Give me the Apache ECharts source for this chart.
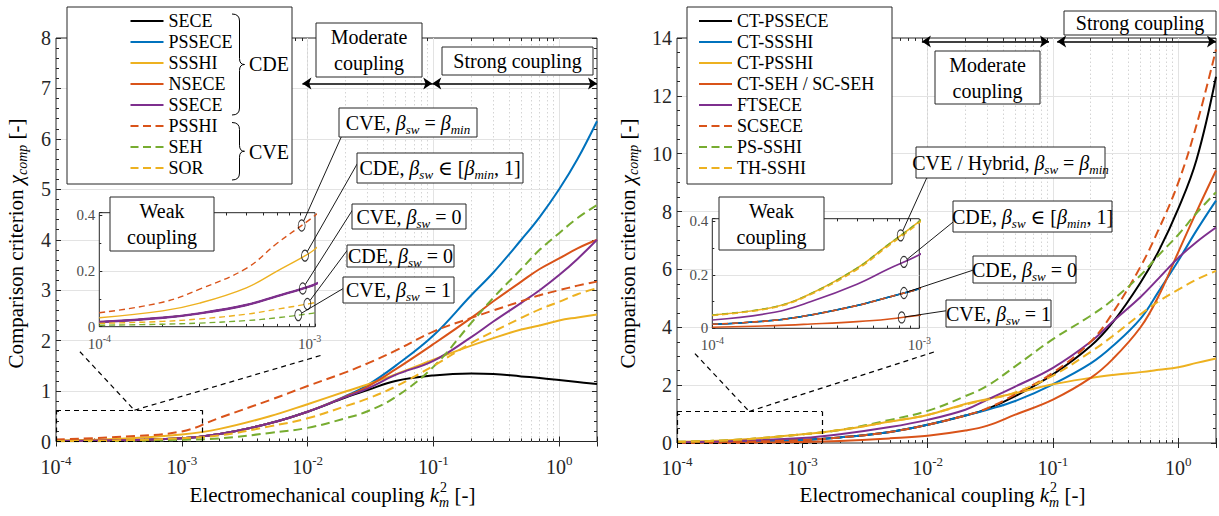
<!DOCTYPE html>
<html><head><meta charset="utf-8">
<script src="https://cdn.jsdelivr.net/npm/echarts@6.0.0/dist/echarts.min.js"></script>
<style>html,body{margin:0;padding:0;background:#fff}#c{width:1219px;height:516px}</style>
</head><body><div id="c"></div>
<script>
// ---------------- DATA ----------------
// main plots: electromechanical coupling k_m^2
const kMain = [1e-4,3e-4,1e-3,2e-3,5e-3,1e-2,2e-2,3e-2,5e-2,0.1,0.2,0.3,0.5,0.7,1,1.4,2];
// left main panel
const SECE   = [0.01,0.025,0.065,0.15,0.36,0.59,0.87,1.02,1.2,1.31,1.35,1.34,1.29,1.26,1.22,1.18,1.14];
const PSSECE = [0.01,0.025,0.065,0.15,0.36,0.59,0.9,1.12,1.5,2.1,2.9,3.35,4.0,4.45,5.0,5.6,6.35];
const SSSHI  = [0.02,0.05,0.14,0.25,0.5,0.74,0.99,1.13,1.33,1.62,1.9,2.05,2.22,2.3,2.4,2.46,2.52];
const NSECE  = [0.01,0.025,0.065,0.15,0.36,0.59,0.89,1.09,1.43,1.93,2.45,2.78,3.17,3.42,3.63,3.83,4.0];
const SSECE  = [0.01,0.025,0.065,0.15,0.36,0.59,0.88,1.05,1.32,1.6,2.07,2.38,2.75,3.0,3.3,3.62,4.0];
const PSSHI  = [0.04,0.09,0.2,0.47,0.82,1.1,1.37,1.55,1.8,2.18,2.45,2.6,2.78,2.9,3.0,3.09,3.17];
const SEH    = [0.003,0.01,0.035,0.06,0.17,0.27,0.46,0.6,0.88,1.48,2.35,2.85,3.42,3.8,4.13,4.43,4.69];
const SOR    = [0.007,0.02,0.065,0.12,0.3,0.46,0.7,0.85,1.09,1.5,1.95,2.18,2.45,2.62,2.77,2.92,3.04];
// right main panel
const CT_PSSECE = [0.01,0.04,0.1,0.19,0.38,0.63,0.95,1.18,1.62,2.37,3.35,4.17,5.55,6.65,8.1,9.8,12.66];
const CT_SSSHI  = [0.01,0.04,0.1,0.19,0.38,0.63,0.95,1.15,1.45,2.03,2.75,3.35,4.3,5.25,6.3,7.35,8.38];
const CT_PSSHI  = [0.04,0.11,0.3,0.45,0.74,0.97,1.35,1.52,1.72,2.03,2.25,2.35,2.45,2.53,2.62,2.77,2.92];
const CT_SEH    = [0.003,0.01,0.035,0.07,0.16,0.25,0.43,0.6,0.98,1.5,2.25,2.9,4.0,5.1,6.6,8.0,9.42];
const FTSECE    = [0.02,0.07,0.17,0.3,0.55,0.8,1.15,1.5,1.95,2.6,3.5,4.2,5.05,5.7,6.4,6.95,7.45];
const SCSECE    = [0.01,0.04,0.1,0.19,0.38,0.63,0.95,1.2,1.68,2.43,3.5,4.5,6.1,7.4,9.0,11.0,13.6];
const PS_SSHI   = [0.04,0.11,0.3,0.45,0.8,1.11,1.62,1.98,2.65,3.59,4.4,4.95,5.8,6.5,7.2,7.95,8.67];
const TH_SSHI   = [0.04,0.11,0.3,0.45,0.74,0.97,1.33,1.5,1.75,2.33,3.15,3.7,4.45,4.9,5.3,5.65,5.95];
// insets ("Weak coupling")
const kInset = [1e-4,2e-4,3e-4,5e-4,7e-4,1e-3,1.1e-3];
const L_CDE0_in  = [0.017,0.032,0.048,0.078,0.11,0.145,0.158];
const L_SSSHI_in = [0.032,0.057,0.085,0.14,0.2,0.265,0.29];
const L_PSSHI_in = [0.05,0.088,0.135,0.21,0.3,0.385,0.41];
const L_SEH_in   = [0.005,0.009,0.013,0.022,0.032,0.047,0.052];
const L_SOR_in   = [0.012,0.019,0.028,0.045,0.063,0.083,0.09];
const R_CDE0_in  = [0.015,0.03,0.05,0.085,0.115,0.148,0.16];
const R_CVE_in   = [0.05,0.08,0.13,0.225,0.31,0.4,0.43];
const R_TH_in    = [0.048,0.078,0.127,0.22,0.305,0.395,0.425];
const R_SEH_in   = [0.004,0.01,0.016,0.025,0.034,0.049,0.053];
const R_FT_in    = [0.031,0.06,0.1,0.165,0.22,0.275,0.3];
// axis ranges / ticks
const xRange = [1e-4, 2];
const leftY = {min:0, max:8, interval:1};
const rightY = {min:0, max:14, interval:2};
const insetLeftX = [1e-4, 1.06e-3];
const insetRightX = [1e-4, 1e-3];
const insetY = {min:0, max:0.41, interval:0.2};

// ---------------- STYLE ----------------
const FONT = "'Liberation Serif','Times New Roman','DejaVu Serif',serif";
const TICK = '#262626';
const GRID_C = '#e3e3e3';
const MINOR_C = '#d4d4d4';
const C = {blue:'#0072BD', orange:'#D95319', yellow:'#EDB120', purple:'#7E2F8E', green:'#77AC30', black:'#000000'};
const SOLID_ICON = 'path://M0,0H33V2.2H0Z';
const DASH_ICON = 'path://M0,0H8V2.2H0ZM12.5,0H20.5V2.2H12.5ZM25,0H33V2.2H25Z';

const leftDefs = [
  {name:'SECE', data:SECE, inset:L_CDE0_in, color:C.black},
  {name:'PSSECE', data:PSSECE, inset:L_CDE0_in, color:C.blue},
  {name:'SSSHI', data:SSSHI, inset:L_SSSHI_in, color:C.yellow},
  {name:'NSECE', data:NSECE, inset:L_CDE0_in, color:C.orange},
  {name:'SSECE', data:SSECE, inset:L_CDE0_in, color:C.purple},
  {name:'PSSHI', data:PSSHI, inset:L_PSSHI_in, color:C.orange, dash:true},
  {name:'SEH', data:SEH, inset:L_SEH_in, color:C.green, dash:true},
  {name:'SOR', data:SOR, inset:L_SOR_in, color:C.yellow, dash:true}
];
const rightDefs = [
  {name:'CT-PSSECE', data:CT_PSSECE, inset:R_CDE0_in, color:C.black},
  {name:'CT-SSSHI', data:CT_SSSHI, inset:R_CDE0_in, color:C.blue},
  {name:'CT-PSSHI', data:CT_PSSHI, inset:R_CVE_in, color:C.yellow},
  {name:'CT-SEH / SC-SEH', data:CT_SEH, inset:R_SEH_in, color:C.orange},
  {name:'FTSECE', data:FTSECE, inset:R_FT_in, color:C.purple},
  {name:'SCSECE', data:SCSECE, inset:R_CDE0_in, color:C.orange, dash:true},
  {name:'PS-SSHI', data:PS_SSHI, inset:R_CVE_in, color:C.green, dash:true},
  {name:'TH-SSHI', data:TH_SSHI, inset:R_TH_in, color:C.yellow, dash:true}
];

function pairs(xs, ys){ return xs.map((x,i)=>[x, ys[i]]); }
function lineSeries(def, xs, ys, xi, yi, width, dash, z, suffix){
  return {type:'line', name: def.name + (suffix||''), xAxisIndex:xi, yAxisIndex:yi, data: pairs(xs, ys),
    symbol:'none', showSymbol:false, smooth:0.4, silent:true, z:z,
    lineStyle:{color:def.color, width:width, type: def.dash ? dash : 'solid', cap:'butt', join:'round'},
    itemStyle:{color:def.color}, emphasis:{disabled:true}};
}
function interp(xs, ys, x){
  const lx = Math.log10(x);
  for (let i=0;i<xs.length-1;i++){
    const a = Math.log10(xs[i]), b = Math.log10(xs[i+1]);
    if (lx>=a && lx<=b) return ys[i] + (ys[i+1]-ys[i])*(lx-a)/(b-a);
  }
  return ys[ys.length-1];
}
function decadeLabel(size, ssize, lh, col){
  return {fontFamily:FONT, color:col,
    formatter: v => { const l = Math.log10(v), e = Math.round(l); if (Math.abs(l-e)>1e-6) return ''; return '{b|10}{s|' + (e<0 ? '-' + Math.abs(e) : e) + '}'; },
    rich:{ b:{fontFamily:FONT, fontSize:size, lineHeight:lh, color:col, verticalAlign:'middle'},
           s:{fontFamily:FONT, fontSize:ssize, lineHeight:Math.round(lh/2), color:col, verticalAlign:'top'} } };
}
function logAxis(grid, range, pos, labels){
  const ax = {type:'log', logBase:10, gridIndex:grid, min:range[0], max:range[1], position:pos, z:1,
    axisLine:{show:false}, axisTick:{show:true, inside:true, length:5, lineStyle:{color:TICK, width:1}},
    splitLine:{show:false}, minorTick:{show:false}};
  ax.axisLabel = labels ? Object.assign({show:true, margin:12, showMinLabel:true, showMaxLabel:true}, decadeLabel(20,13,26,TICK)) : {show:false};
  return ax;
}
function valAxis(grid, r, minorSplit, pos, labels){
  return {type:'value', gridIndex:grid, min:r.min, max:r.max, interval:r.interval, position:pos, z:1,
    axisLine:{show:false}, axisTick:{show:true, inside:true, length:5, lineStyle:{color:TICK}},
    minorTick:{show:true, splitNumber:minorSplit, length:3, lineStyle:{color:TICK}},
    splitLine:{show:false},
    axisLabel: labels ? {show:true, fontFamily:FONT, fontSize:20, color:TICK, margin:5} : {show:false}};
}
function insetXAxis(grid, range){
  const ax = {type:'log', logBase:10, gridIndex:grid, min:range[0], max:range[1], position:'bottom', z:4,
    axisLine:{show:false}, axisTick:{show:true, inside:true, length:3, lineStyle:{color:TICK}},
    splitLine:{show:false}, minorTick:{show:false}};
  ax.axisLabel = Object.assign({show:true, margin:7, showMinLabel:true, showMaxLabel:true}, decadeLabel(15,10,20,'#4d4d4d'));
  return ax;
}
function insetYAxis(grid){
  return {type:'value', gridIndex:grid, min:insetY.min, max:insetY.max, interval:insetY.interval, z:4,
    axisLine:{show:false}, axisTick:{show:true, inside:true, length:3, lineStyle:{color:TICK}},
    minorTick:{show:true, splitNumber:2, length:2, lineStyle:{color:TICK}},
    splitLine:{show:false},
    axisLabel:{show:true, fontFamily:FONT, fontSize:15, color:'#4d4d4d', margin:4,
      formatter: v => { if (Math.abs(v*5-Math.round(v*5))>1e-6) return ''; return v===0 ? '0' : v.toFixed(1); }}};
}
function minorVals(lo, hi){ const out=[]; for (let e=-5;e<=1;e++) for (let m=2;m<=9;m++){ const v=m*Math.pow(10,e); if (v>lo*1.0001 && v<hi*0.9999) out.push(+v.toPrecision(3)); } return out; }
function majorVals(lo, hi){ const out=[]; for (let e=-5;e<=1;e++){ const v=Math.pow(10,e); if (v>lo*1.0001 && v<hi*0.9999) out.push(v);} return out; }
function gridHelper(xi, yi, xr, yr, ygrid, dy, z){
  const TS = {color:TICK, type:'solid', width:1};
  const data = [];
  majorVals(xr[0], xr[1]).forEach(v => data.push({xAxis:v, lineStyle:{color:GRID_C, type:'solid', width:1}}));
  minorVals(xr[0], xr[1]).forEach(v => data.push({xAxis:v, lineStyle:{color:MINOR_C, type:[1.5,2.5], width:1}}));
  ygrid.forEach(v => data.push({yAxis:v, lineStyle:{color:GRID_C, type:'solid', width:1}}));
  minorVals(xr[0], xr[1]).forEach(v => {
    data.push([{coord:[v, yr[0]], lineStyle:TS},{coord:[v, yr[0]+dy], lineStyle:TS}]);
    data.push([{coord:[v, yr[1]-dy], lineStyle:TS},{coord:[v, yr[1]], lineStyle:TS}]);
  });
  return {type:'line', xAxisIndex:xi, yAxisIndex:yi, data:[], silent:true, z:z,
    markLine:{silent:true, symbol:'none', z:z, animation:false, label:{show:false}, emphasis:{disabled:true}, data:data}};
}
function seg(a, b, style, sym){
  const s0 = {coord:a, lineStyle:style}, s1 = {coord:b, lineStyle:style};
  if (sym){ s0.symbol='arrow'; s1.symbol='arrow'; s0.symbolSize=9; s1.symbolSize=9; }
  return [s0, s1];
}
function annoHelper(xi, yi, box, links, arrows){
  const D = {color:'#000', type:[5,4], width:1.2};
  const A = {color:'#000', type:'solid', width:1.5};
  const x0=box[0], x1=box[1], y0=box[2], y1=box[3];
  const data = [
    seg([x0,y1],[x1,y1],D), seg([x1,y0],[x1,y1],D), seg([x0,y0],[x1,y0],D), seg([x0,y0],[x0,y1],D),
    seg(links[0],links[1],D), seg(links[1],links[2],D)
  ];
  arrows.forEach(a => data.push(seg(a[0], a[1], A, true)));
  return {type:'line', xAxisIndex:xi, yAxisIndex:yi, data:[], silent:true, z:6,
    markLine:{silent:true, symbol:'none', z:6, animation:false, label:{show:false}, emphasis:{disabled:true}, data:data}};
}

// annotation ellipses in the insets (placed on the inset curves)
const leftEll = [
  {x:9.16e-4, s:L_PSSHI_in, to:[341.7,136]},
  {x:9.5e-4,  s:L_SSSHI_in, to:[357.5,163.3]},
  {x:9.27e-4, s:L_CDE0_in,  to:[352.5,210]},
  {x:9.75e-4, s:L_SOR_in,   to:[347.5,250]},
  {x:8.83e-4, s:L_SEH_in,   to:[343.5,288.3]}
];
const rightEll = [
  {x:8.13e-4, s:R_CVE_in,  to:[926.7,178]},
  {x:8.43e-4, s:R_FT_in,   to:[953.5,221.7]},
  {x:8.43e-4, s:R_CDE0_in, to:[973.5,270]},
  {x:8.22e-4, s:R_SEH_in,  to:[946.5,310.7]}
];
function ellSeries(xi, yi, ells){
  return {type:'scatter', xAxisIndex:xi, yAxisIndex:yi, silent:true, z:7,
    data: ells.map(e => [e.x, interp(kInset, e.s, e.x)]), symbol:'circle', symbolSize:[7,11],
    itemStyle:{color:'rgba(255,255,255,0)', borderColor:'#000', borderWidth:1}};
}

const series = [];
series.push(gridHelper(0,0,xRange,[0,8],[1,2,3,4,5,6,7],0.06,1));
series.push(gridHelper(2,2,xRange,[0,14],[2,4,6,8,10,12],0.1,1));
series.push(gridHelper(4,4,insetLeftX,[0,0.41],[0.2],0.01,3.5));
series.push(gridHelper(5,5,insetRightX,[0,0.41],[0.2],0.01,3.5));
leftDefs.forEach(d => series.push(lineSeries(d,kMain,d.data,0,0,2,[9,5],2)));
rightDefs.forEach(d => series.push(lineSeries(d,kMain,d.data,2,2,2,[9,5],2)));
leftDefs.forEach(d => series.push(lineSeries(d,kInset,d.inset,4,4,d.name==='SSECE'?2.4:1.4,[6,4],5,' (inset)')));
rightDefs.forEach(d => series.push(lineSeries(d,kInset,d.inset,5,5,1.6,[6,4],5,' (inset)')));
series.push(ellSeries(4,4,leftEll));
series.push(ellSeries(5,5,rightEll));
series.push(annoHelper(0,0,[1e-4,1.46e-3,0,0.62],[[1.55e-4,1.78],[4.2e-4,0.62],[0.0133,1.72]],
  [[[0.0091,7.1],[0.098,7.1]],[[0.098,7.1],[2,7.1]]]));
series.push(annoHelper(2,2,[1e-4,1.44e-3,0,1.09],[[1.39e-4,3.09],[3.77e-4,1.09],[0.0117,3.17]],
  [[[0.009,13.88],[0.093,13.88]],[[0.108,13.88],[2,13.88]]]));

const legendText = {fontFamily:FONT, fontSize:18, color:'#000', lineHeight:14};
const option = {
  animation:false,
  backgroundColor:'#fff',
  grid:[
    {left:56, top:38, width:541, height:403.5, show:true, borderColor:TICK, borderWidth:1, backgroundColor:'rgba(0,0,0,0)', z:1},
    {left:677, top:38, width:539, height:405, show:true, borderColor:TICK, borderWidth:1, backgroundColor:'rgba(0,0,0,0)', z:1},
    {left:99.3, top:212.7, width:215.7, height:114, show:true, borderColor:TICK, borderWidth:1, backgroundColor:'#fff', z:3},
    {left:712.3, top:218.7, width:207, height:109.6, show:true, borderColor:TICK, borderWidth:1, backgroundColor:'#fff', z:3}
  ],
  xAxis:[
    logAxis(0, xRange, 'bottom', true),
    logAxis(0, xRange, 'top', false),
    logAxis(1, xRange, 'bottom', true),
    logAxis(1, xRange, 'top', false),
    insetXAxis(2, insetLeftX),
    insetXAxis(3, insetRightX)
  ],
  yAxis:[
    valAxis(0, leftY, 5, 'left', true),
    valAxis(0, leftY, 5, 'right', false),
    valAxis(1, rightY, 4, 'left', true),
    valAxis(1, rightY, 4, 'right', false),
    insetYAxis(2),
    insetYAxis(3)
  ],
  legend:[
    {data:leftDefs.map(d=>({name:d.name, icon:d.dash?DASH_ICON:SOLID_ICON})), orient:'vertical', left:130.5, top:12,
      itemWidth:33, itemHeight:14, itemGap:3, padding:0, textStyle:legendText, selectedMode:false, z:15},
    {data:rightDefs.map(d=>({name:d.name, icon:d.dash?DASH_ICON:SOLID_ICON})), orient:'vertical', left:699, top:12,
      itemWidth:33, itemHeight:14, itemGap:3, padding:0, textStyle:legendText, selectedMode:false, z:15}
  ],
  series:series
};

const chart = echarts.init(document.getElementById('c'), null, {renderer:'svg', width:1219, height:516});
chart.setOption(option);

// ---------------- GRAPHIC ANNOTATIONS ----------------
const meas = document.createElement('canvas').getContext('2d');
function tw(t, size, it){ meas.font = (it?'italic ':'') + size + 'px ' + FONT; return meas.measureText(t).width; }
function rect(x,y,w,h,z){ return {type:'rect', silent:true, z:z||12, shape:{x:x,y:y,width:w,height:h}, style:{fill:'#fff', stroke:TICK, lineWidth:1}}; }
function text(t, x, y, size, opt){
  return {type:'text', silent:true, z:13, x:x, y:y,
    style:Object.assign({text:t, font:size+'px '+FONT, fill:'#000', align:'center', verticalAlign:'middle', textAlign:'center', textVerticalAlign:'middle'}, opt||{})};
}
const RICH = {
  n:{fontFamily:FONT, fontSize:20, lineHeight:26, color:'#000', verticalAlign:'middle'},
  i:{fontFamily:FONT, fontSize:20, fontStyle:'italic', lineHeight:26, color:'#000', verticalAlign:'middle'},
  s:{fontFamily:FONT, fontSize:13, fontStyle:'italic', lineHeight:10, color:'#000', verticalAlign:'bottom'}
};
function richText(t, x, y){
  return {type:'text', silent:true, z:13, x:x, y:y,
    style:{text:t, rich:RICH, font:'20px '+FONT, fill:'#000', align:'center', verticalAlign:'middle', textAlign:'center', textVerticalAlign:'middle'}};
}
const annBoxes = [
  {b:[339,108,138,29],  t:'{n|CVE, }{i|β}{s|sw}{n| = }{i|β}{s|min}'},
  {b:[357,153,166,30],  t:'{n|CDE, }{i|β}{s|sw}{n| ∈ [}{i|β}{s|min}{n|, 1]}'},
  {b:[352,204,114,25],  t:'{n|CVE, }{i|β}{s|sw}{n| = 0}'},
  {b:[347,245,107,22],  t:'{n|CDE, }{i|β}{s|sw}{n| = 0}'},
  {b:[343,277,111,26],  t:'{n|CVE, }{i|β}{s|sw}{n| = 1}'},
  {b:[916,147,189,31],  t:'{n|CVE / Hybrid, }{i|β}{s|sw}{n| = }{i|β}{s|min}'},
  {b:[953,201,159,31],  t:'{n|CDE, }{i|β}{s|sw}{n| ∈ [}{i|β}{s|min}{n|, 1]}'},
  {b:[973,256,103,27],  t:'{n|CDE, }{i|β}{s|sw}{n| = 0}'},
  {b:[946,300,105,27],  t:'{n|CVE, }{i|β}{s|sw}{n| = 1}'}
];
const regionBoxes = [
  {b:[316,23,106,54], t:'Moderate\ncoupling'},
  {b:[442,47,151,28], t:'Strong coupling'},
  {b:[935,51,105,53], t:'Moderate\ncoupling'},
  {b:[1064,11,152,24], t:'Strong coupling'},
  {b:[110,197,104,54], t:'Weak\ncoupling'},
  {b:[719,197,105,53], t:'Weak\ncoupling'}
];
function mathLine(parts, cx, cy, rotate){
  let x = 0; const placed = [];
  parts.forEach(p => { placed.push({p:p, x:x + (p.dx||0)}); if (!p.noAdv) x += tw(p.t, p.size, p.it); });
  const W = x;
  const kids = placed.map(o => ({type:'text', silent:true, z:13, x:-W/2 + o.x, y:(o.p.dy||0),
    style:{text:o.p.t, font:(o.p.it?'italic ':'') + o.p.size + 'px ' + FONT, fill:'#000', align:'left', verticalAlign:'middle', textAlign:'left', textVerticalAlign:'middle'}}));
  return {type:'group', x:cx, y:cy, rotation: rotate ? Math.PI/2 : 0, silent:true, children:kids};
}
const xTitleParts = [
  {t:'Electromechanical coupling ', size:21},
  {t:'k', size:21, it:true},
  {t:'2', size:14, dy:-8, dx:1, noAdv:true},
  {t:'m', size:14, it:true, dy:7},
  {t:' [-]', size:21}
];
const yTitleParts = [
  {t:'Comparison criterion ', size:21},
  {t:'χ', size:21, it:true},
  {t:'comp', size:14, it:true, dy:6},
  {t:' [-]', size:21}
];
function braceParts(x0, x1, y0, y1){
  const ym = (y0+y1)/2, S = {fill:'none', stroke:'#000', lineWidth:1};
  const mk = (type, shape) => ({type:type, silent:true, z:14, shape:shape, style:S});
  return [
    mk('bezierCurve', {x1:x0, y1:y0, x2:x1, y2:y0+7, cpx1:x1, cpy1:y0}),
    mk('line', {x1:x1, y1:y0+7, x2:x1, y2:ym-6}),
    mk('bezierCurve', {x1:x1, y1:ym-6, x2:x1+5, y2:ym, cpx1:x1, cpy1:ym}),
    mk('bezierCurve', {x1:x1+5, y1:ym, x2:x1, y2:ym+6, cpx1:x1, cpy1:ym}),
    mk('line', {x1:x1, y1:ym+6, x2:x1, y2:y1-7}),
    mk('bezierCurve', {x1:x1, y1:y1-7, x2:x0, y2:y1, cpx1:x1, cpy1:y1})
  ];
}
function leaderLines(ells, xi, yi){
  const out = [];
  ells.forEach(e => {
    const p = chart.convertToPixel({xAxisIndex:xi, yAxisIndex:yi}, [e.x, interp(kInset, e.s, e.x)]);
    const dx = e.to[0]-p[0], dy = e.to[1]-p[1];
    const t = 1/Math.sqrt((dx/3.5)*(dx/3.5) + (dy/5.5)*(dy/5.5));
    out.push({type:'line', silent:true, z:11, shape:{x1:p[0]+dx*t, y1:p[1]+dy*t, x2:e.to[0], y2:e.to[1]},
      style:{stroke:'#000', lineWidth:0.9}});
  });
  return out;
}
const graphics = [];
graphics.push(rect(67,7,225,177,10));
graphics.push(rect(687,7,205,177,10));
braceParts(232,239.5,14,115).forEach(g => graphics.push(g));
braceParts(232,239.5,122.5,180).forEach(g => graphics.push(g));
const cde = text('CDE', 249, 64, 20, {align:'left', textAlign:'left'}); cde.z = 16; graphics.push(cde);
const cve = text('CVE', 249, 152, 20, {align:'left', textAlign:'left'}); cve.z = 16; graphics.push(cve);
leaderLines(leftEll, 4, 4).forEach(g => graphics.push(g));
leaderLines(rightEll, 5, 5).forEach(g => graphics.push(g));
annBoxes.forEach(a => { graphics.push(rect(a.b[0],a.b[1],a.b[2],a.b[3],12)); graphics.push(richText(a.t, a.b[0]+a.b[2]/2, a.b[1]+a.b[3]/2)); });
regionBoxes.forEach(a => { graphics.push(rect(a.b[0],a.b[1],a.b[2],a.b[3],12)); graphics.push(text(a.t, a.b[0]+a.b[2]/2, a.b[1]+a.b[3]/2, 20, {lineHeight:26})); });
graphics.push(mathLine(xTitleParts, 332.5, 495, false));
graphics.push(mathLine(xTitleParts, 942.5, 495, false));
graphics.push(mathLine(yTitleParts, 16, 243.5, true));
graphics.push(mathLine(yTitleParts, 627.5, 243.5, true));
chart.setOption({graphic:{elements:graphics}});
</script>
</body></html>
